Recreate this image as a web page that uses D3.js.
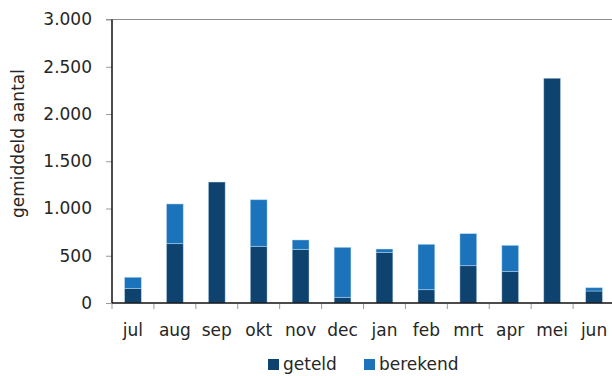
<!DOCTYPE html>
<html>
<head>
<meta charset="utf-8">
<script src="https://cdn.jsdelivr.net/npm/d3@7"></script>
<style>
  html, body { margin: 0; padding: 0; background: #fff; }
  svg { display: block; font-family: "DejaVu Sans", sans-serif; }
</style>
</head>
<body>
<svg id="chart" width="612" height="376"></svg>
<script>
// Monthly average counts: counted part and estimated part, stacked
const months = ["jul", "aug", "sep", "okt", "nov", "dec", "jan", "feb", "mrt", "apr", "mei", "jun"];
const geteld = [155, 628, 1280, 600, 568, 60, 536, 141, 395, 335, 2378, 127];
const berekend = [117, 420, 0, 493, 99, 529, 35, 480, 339, 275, 0, 35];
const yTicks = [0, 500, 1000, 1500, 2000, 2500, 3000];
const seriesNames = ["geteld", "berekend"];
const colors = ["#0e426f", "#1a73bb"];

const svg = d3.select("#chart");
const plotLeft = 112, plotRight = 615, plotTop = 19.5, plotBottom = 303;
const textColor = "#262626";

const x = d3.scaleBand().domain(months).range([plotLeft, plotRight]).paddingInner(0.6).paddingOuter(0.3);
const xEdges = d3.scaleBand().domain(months).range([plotLeft, plotRight]);
const y = d3.scaleLinear().domain([0, 3000]).range([plotBottom, plotTop]);

const rows = months.map((m, i) => ({ month: m, geteld: geteld[i], berekend: berekend[i] }));
const stacked = d3.stack().keys(seriesNames)(rows);

// top border of the plot area
svg.append("line")
  .attr("x1", plotLeft - 6).attr("x2", 612)
  .attr("y1", y(3000)).attr("y2", y(3000))
  .attr("stroke", "#8c8c8c").attr("stroke-width", 1.2);

// y axis
const fmt = v => d3.format(",")(v).replace(/,/g, ".");
const yAxis = svg.append("g")
  .attr("transform", `translate(${plotLeft},0)`)
  .call(d3.axisLeft(y).tickValues(yTicks).tickSize(6).tickPadding(14).tickFormat(fmt));
yAxis.select(".domain").remove();
yAxis.selectAll(".tick line").attr("stroke", "#9a9a9a");
yAxis.selectAll(".tick text")
  .attr("font-size", 17).attr("fill", textColor)
  .attr("font-family", "'DejaVu Sans', sans-serif");

// bars
svg.append("g").selectAll("g")
  .data(stacked).join("g")
  .attr("fill", (d, i) => colors[i])
  .selectAll("rect")
  .data(d => d).join("rect")
  .attr("x", d => x(d.data.month))
  .attr("width", x.bandwidth())
  .attr("y", d => y(d[1]))
  .attr("height", d => Math.max(0, y(d[0]) - y(d[1])))
  .attr("stroke", "rgba(200,225,245,0.55)")
  .attr("stroke-width", 0.8);

// x axis with ticks on category boundaries
const xg = svg.append("g").attr("transform", `translate(0,${plotBottom})`);
xg.append("line").attr("x1", plotLeft).attr("x2", 612).attr("y1", 0).attr("y2", 0)
  .attr("stroke", "#111").attr("stroke-width", 1.5);
xg.selectAll("line.tk").data(months).join("line").attr("class", "tk")
  .attr("x1", d => xEdges(d)).attr("x2", d => xEdges(d))
  .attr("y1", 1).attr("y2", 6).attr("stroke", "#9a9a9a");
xg.selectAll("text").data(months).join("text")
  .attr("x", d => xEdges(d) + xEdges.bandwidth() / 2)
  .attr("y", 33)
  .attr("text-anchor", "middle")
  .attr("font-size", 17).attr("fill", textColor)
  .text(d => d);

// y axis line
svg.append("line")
  .attr("x1", plotLeft).attr("x2", plotLeft).attr("y1", plotTop).attr("y2", plotBottom)
  .attr("stroke", "#111").attr("stroke-width", 1.5);

// y axis title
svg.append("text")
  .attr("transform", "translate(24,143.5) rotate(-90)")
  .attr("text-anchor", "middle")
  .attr("font-size", 17).attr("fill", textColor)
  .text("gemiddeld aantal");

// legend
const legend = svg.append("g");
const legendX = [268, 364];
seriesNames.forEach((name, i) => {
  legend.append("rect")
    .attr("x", legendX[i]).attr("y", 359).attr("width", 11).attr("height", 11)
    .attr("fill", colors[i]);
  legend.append("text")
    .attr("x", legendX[i] + 15).attr("y", 370)
    .attr("font-size", 17).attr("fill", textColor)
    .text(name);
});
</script>
</body>
</html>
